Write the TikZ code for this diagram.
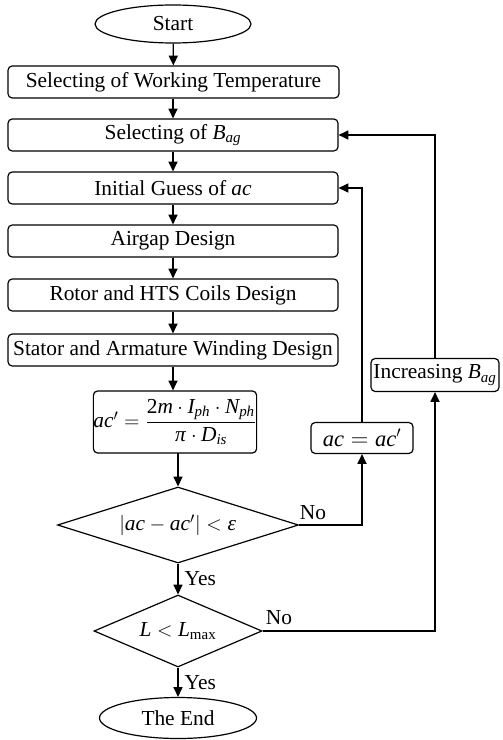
\documentclass[tikz,border=0pt]{standalone}
\usepackage{amsmath}
\usepackage{mathspec}
\setallmainfonts(Digits,Latin,Greek){Liberation Serif}
\usepackage{tikz}
\usetikzlibrary{shapes.geometric}
\usetikzlibrary{arrows.meta}

\begin{document}
\begin{tikzpicture}[x=0.025cm, y=-0.025cm,
    font=\fontsize{15.2}{18}\selectfont,
    box/.style={draw, line width=0.85pt, rounded corners=3pt, inner sep=0pt, minimum height=32*0.025cm},
    term/.style={draw, line width=0.85pt, ellipse, inner sep=0pt},
    decision/.style={draw, line width=0.85pt, diamond, inner sep=0pt},
    arr/.style={line width=0.9pt, -{Triangle[length=7pt, width=6.5pt]}}]
        \useasboundingbox (0,0) rectangle (502,740);
        % 绘制节点
        \node[term, minimum width=156*0.025cm, minimum height=38*0.025cm] (start) at (173,24) {Start};
        \node[box, minimum width=331*0.025cm] (temp) at (173.5,82) {Selecting of Working Temperature};
        \node[box, minimum width=330*0.025cm] (bag) at (173,135) {Selecting of $B_{ag}$};
        \node[box, minimum width=330*0.025cm] (guess) at (173,188) {Initial Guess of $ac$};
        \node[box, minimum width=330*0.025cm] (airgap) at (173,241) {Airgap Design};
        \node[box, minimum width=330*0.025cm] (rotor) at (173,295) {Rotor and HTS Coils Design};
        \node[box, minimum width=330*0.025cm] (stator) at (173,350) {Stator and Armature Winding Design};
        \node[box, minimum width=149*0.025cm, minimum height=62*0.025cm] (formula) at (175,422)
            {$ac' = \dfrac{2m\cdot I_{ph}\cdot N_{ph}}{\pi\cdot D_{is}}$};
        \node[decision, aspect=3.17, minimum width=241*0.025cm, minimum height=76*0.025cm] (check) at (178,525) {$\lvert ac-ac'\rvert<\epsilon$};
        \node[decision, aspect=2.33, minimum width=168*0.025cm, minimum height=72*0.025cm] (length) at (178,631) {$L<L_{\max}$};
        \node[term, minimum width=157*0.025cm, minimum height=41*0.025cm] (theend) at (178,718) {The End};
        \node[box, minimum width=102*0.025cm, minimum height=31*0.025cm, font=\fontsize{16}{19}\selectfont] (update) at (362,438) {$ac=ac'$};
        \node[box, minimum width=128*0.025cm, minimum height=33*0.025cm] (increase) at (435,375) {Increasing $B_{ag}$};
        \coordinate (fbot) at (178,453);
        % 绘制箭头
        \draw[arr] (start) -- (temp);
        \draw[arr] (temp.south -| bag) -- (bag);
        \draw[arr] (bag) -- (guess);
        \draw[arr] (guess) -- (airgap);
        \draw[arr] (airgap) -- (rotor);
        \draw[arr] (rotor) -- (stator);
        \draw[arr] (stator.south) -- (stator.south |- formula.north);
        \draw[arr] (fbot) -- (check.north);
        \draw[arr] (check.south) -- node[right, xshift=1pt] {Yes} (length.north);
        \draw[arr] (length.south) -- node[right, xshift=1pt] {Yes} (theend.north);
        % 绘制反馈回路
        \draw[arr] (check.east) -| (update.south);
        \draw[arr] (update.north) |- (guess.east);
        \draw[arr] (length.east) -| (increase.south);
        \draw[arr] (increase.north) |- (bag.east);
        % 标记
        \node (no1) at (313,513) {No};
        \node (no2) at (279,618) {No};
    \end{tikzpicture}
\end{document}
